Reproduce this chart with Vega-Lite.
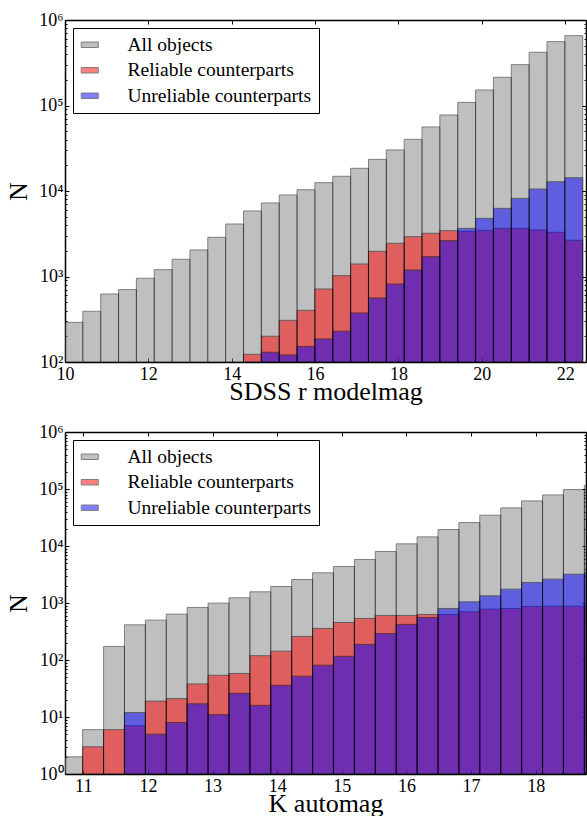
{
  "$schema": "https://vega.github.io/schema/vega-lite/v6.json",
  "background": "white",
  "padding": {"left": 5, "top": 11, "right": 0, "bottom": 0},
  "config": {
    "font": "Liberation Serif",
    "view": {"stroke": null},
    "axis": {"grid": false, "domainColor": "black", "domainWidth": 1.5, "tickColor": "black", "tickWidth": 1, "labelColor": "black", "titleColor": "black", "labelFont": "Liberation Serif", "titleFont": "Liberation Serif", "titleFontWeight": "normal", "labelFontSize": 18, "titleFontSize": 26, "labelFlush": false, "labelOverlap": false},
    "legend": {"labelFont": "Liberation Serif", "labelFontSize": 19.5, "labelColor": "black", "labelLimit": 0}
  },
  "datasets": {
    "top": [
      {"s": "All objects", "lo": 10.000, "hi": 10.428, "n": 291},
      {"s": "All objects", "lo": 10.428, "hi": 10.857, "n": 392},
      {"s": "All objects", "lo": 10.857, "hi": 11.285, "n": 624},
      {"s": "All objects", "lo": 11.285, "hi": 11.713, "n": 702},
      {"s": "All objects", "lo": 11.713, "hi": 12.142, "n": 953},
      {"s": "All objects", "lo": 12.142, "hi": 12.570, "n": 1202},
      {"s": "All objects", "lo": 12.570, "hi": 12.998, "n": 1589},
      {"s": "All objects", "lo": 12.998, "hi": 13.426, "n": 2042},
      {"s": "All objects", "lo": 13.426, "hi": 13.855, "n": 2872},
      {"s": "All objects", "lo": 13.855, "hi": 14.283, "n": 4110},
      {"s": "All objects", "lo": 14.283, "hi": 14.711, "n": 5838},
      {"s": "All objects", "lo": 14.711, "hi": 15.140, "n": 7240},
      {"s": "All objects", "lo": 15.140, "hi": 15.568, "n": 8980},
      {"s": "All objects", "lo": 15.568, "hi": 15.996, "n": 10350},
      {"s": "All objects", "lo": 15.996, "hi": 16.425, "n": 12500},
      {"s": "All objects", "lo": 16.425, "hi": 16.853, "n": 14860},
      {"s": "All objects", "lo": 16.853, "hi": 17.281, "n": 18420},
      {"s": "All objects", "lo": 17.281, "hi": 17.710, "n": 23440},
      {"s": "All objects", "lo": 17.710, "hi": 18.138, "n": 30190},
      {"s": "All objects", "lo": 18.138, "hi": 18.566, "n": 40180},
      {"s": "All objects", "lo": 18.566, "hi": 18.994, "n": 56060},
      {"s": "All objects", "lo": 18.994, "hi": 19.423, "n": 77400},
      {"s": "All objects", "lo": 19.423, "hi": 19.851, "n": 108800},
      {"s": "All objects", "lo": 19.851, "hi": 20.279, "n": 151800},
      {"s": "All objects", "lo": 20.279, "hi": 20.708, "n": 213800},
      {"s": "All objects", "lo": 20.708, "hi": 21.136, "n": 300400},
      {"s": "All objects", "lo": 21.136, "hi": 21.564, "n": 419000},
      {"s": "All objects", "lo": 21.564, "hi": 21.993, "n": 558000},
      {"s": "All objects", "lo": 21.993, "hi": 22.421, "n": 655600},
      {"s": "Reliable counterparts", "lo": 14.283, "hi": 14.711, "n": 123},
      {"s": "Reliable counterparts", "lo": 14.711, "hi": 15.140, "n": 200},
      {"s": "Reliable counterparts", "lo": 15.140, "hi": 15.568, "n": 307},
      {"s": "Reliable counterparts", "lo": 15.568, "hi": 15.996, "n": 402},
      {"s": "Reliable counterparts", "lo": 15.996, "hi": 16.425, "n": 714},
      {"s": "Reliable counterparts", "lo": 16.425, "hi": 16.853, "n": 1023},
      {"s": "Reliable counterparts", "lo": 16.853, "hi": 17.281, "n": 1400},
      {"s": "Reliable counterparts", "lo": 17.281, "hi": 17.710, "n": 1972},
      {"s": "Reliable counterparts", "lo": 17.710, "hi": 18.138, "n": 2444},
      {"s": "Reliable counterparts", "lo": 18.138, "hi": 18.566, "n": 2922},
      {"s": "Reliable counterparts", "lo": 18.566, "hi": 18.994, "n": 3200},
      {"s": "Reliable counterparts", "lo": 18.994, "hi": 19.423, "n": 3436},
      {"s": "Reliable counterparts", "lo": 19.423, "hi": 19.851, "n": 3373},
      {"s": "Reliable counterparts", "lo": 19.851, "hi": 20.279, "n": 3470},
      {"s": "Reliable counterparts", "lo": 20.279, "hi": 20.708, "n": 3656},
      {"s": "Reliable counterparts", "lo": 20.708, "hi": 21.136, "n": 3656},
      {"s": "Reliable counterparts", "lo": 21.136, "hi": 21.564, "n": 3500},
      {"s": "Reliable counterparts", "lo": 21.564, "hi": 21.993, "n": 3285},
      {"s": "Reliable counterparts", "lo": 21.993, "hi": 22.421, "n": 2650},
      {"s": "Unreliable counterparts", "lo": 14.711, "hi": 15.140, "n": 130},
      {"s": "Unreliable counterparts", "lo": 15.140, "hi": 15.568, "n": 121},
      {"s": "Unreliable counterparts", "lo": 15.568, "hi": 15.996, "n": 152},
      {"s": "Unreliable counterparts", "lo": 15.996, "hi": 16.425, "n": 186},
      {"s": "Unreliable counterparts", "lo": 16.425, "hi": 16.853, "n": 229},
      {"s": "Unreliable counterparts", "lo": 16.853, "hi": 17.281, "n": 374},
      {"s": "Unreliable counterparts", "lo": 17.281, "hi": 17.710, "n": 561},
      {"s": "Unreliable counterparts", "lo": 17.710, "hi": 18.138, "n": 817},
      {"s": "Unreliable counterparts", "lo": 18.138, "hi": 18.566, "n": 1191},
      {"s": "Unreliable counterparts", "lo": 18.566, "hi": 18.994, "n": 1706},
      {"s": "Unreliable counterparts", "lo": 18.994, "hi": 19.423, "n": 2625},
      {"s": "Unreliable counterparts", "lo": 19.423, "hi": 19.851, "n": 3656},
      {"s": "Unreliable counterparts", "lo": 19.851, "hi": 20.279, "n": 4790},
      {"s": "Unreliable counterparts", "lo": 20.279, "hi": 20.708, "n": 6270},
      {"s": "Unreliable counterparts", "lo": 20.708, "hi": 21.136, "n": 8200},
      {"s": "Unreliable counterparts", "lo": 21.136, "hi": 21.564, "n": 10550},
      {"s": "Unreliable counterparts", "lo": 21.564, "hi": 21.993, "n": 12850},
      {"s": "Unreliable counterparts", "lo": 21.993, "hi": 22.421, "n": 14310}
    ],
    "bottom": [
      {"s": "All objects", "lo": 10.667, "hi": 10.990, "n": 2},
      {"s": "All objects", "lo": 10.990, "hi": 11.314, "n": 6},
      {"s": "All objects", "lo": 11.314, "hi": 11.637, "n": 173},
      {"s": "All objects", "lo": 11.637, "hi": 11.961, "n": 414},
      {"s": "All objects", "lo": 11.961, "hi": 12.284, "n": 500},
      {"s": "All objects", "lo": 12.284, "hi": 12.607, "n": 638},
      {"s": "All objects", "lo": 12.607, "hi": 12.931, "n": 836},
      {"s": "All objects", "lo": 12.931, "hi": 13.254, "n": 994},
      {"s": "All objects", "lo": 13.254, "hi": 13.578, "n": 1233},
      {"s": "All objects", "lo": 13.578, "hi": 13.901, "n": 1570},
      {"s": "All objects", "lo": 13.901, "hi": 14.225, "n": 1950},
      {"s": "All objects", "lo": 14.225, "hi": 14.548, "n": 2585},
      {"s": "All objects", "lo": 14.548, "hi": 14.871, "n": 3380},
      {"s": "All objects", "lo": 14.871, "hi": 15.195, "n": 4370},
      {"s": "All objects", "lo": 15.195, "hi": 15.518, "n": 5790},
      {"s": "All objects", "lo": 15.518, "hi": 15.842, "n": 8000},
      {"s": "All objects", "lo": 15.842, "hi": 16.165, "n": 10900},
      {"s": "All objects", "lo": 16.165, "hi": 16.489, "n": 14450},
      {"s": "All objects", "lo": 16.489, "hi": 16.812, "n": 19460},
      {"s": "All objects", "lo": 16.812, "hi": 17.135, "n": 25800},
      {"s": "All objects", "lo": 17.135, "hi": 17.459, "n": 34700},
      {"s": "All objects", "lo": 17.459, "hi": 17.782, "n": 46600},
      {"s": "All objects", "lo": 17.782, "hi": 18.106, "n": 61800},
      {"s": "All objects", "lo": 18.106, "hi": 18.429, "n": 78700},
      {"s": "All objects", "lo": 18.429, "hi": 18.753, "n": 97800},
      {"s": "All objects", "lo": 18.753, "hi": 19.076, "n": 116000},
      {"s": "Reliable counterparts", "lo": 10.990, "hi": 11.314, "n": 3},
      {"s": "Reliable counterparts", "lo": 11.314, "hi": 11.637, "n": 6},
      {"s": "Reliable counterparts", "lo": 11.637, "hi": 11.961, "n": 7},
      {"s": "Reliable counterparts", "lo": 11.961, "hi": 12.284, "n": 19},
      {"s": "Reliable counterparts", "lo": 12.284, "hi": 12.607, "n": 21},
      {"s": "Reliable counterparts", "lo": 12.607, "hi": 12.931, "n": 38},
      {"s": "Reliable counterparts", "lo": 12.931, "hi": 13.254, "n": 54},
      {"s": "Reliable counterparts", "lo": 13.254, "hi": 13.578, "n": 58},
      {"s": "Reliable counterparts", "lo": 13.578, "hi": 13.901, "n": 119},
      {"s": "Reliable counterparts", "lo": 13.901, "hi": 14.225, "n": 143},
      {"s": "Reliable counterparts", "lo": 14.225, "hi": 14.548, "n": 259},
      {"s": "Reliable counterparts", "lo": 14.548, "hi": 14.871, "n": 358},
      {"s": "Reliable counterparts", "lo": 14.871, "hi": 15.195, "n": 456},
      {"s": "Reliable counterparts", "lo": 15.195, "hi": 15.518, "n": 536},
      {"s": "Reliable counterparts", "lo": 15.518, "hi": 15.842, "n": 604},
      {"s": "Reliable counterparts", "lo": 15.842, "hi": 16.165, "n": 604},
      {"s": "Reliable counterparts", "lo": 16.165, "hi": 16.489, "n": 630},
      {"s": "Reliable counterparts", "lo": 16.489, "hi": 16.812, "n": 630},
      {"s": "Reliable counterparts", "lo": 16.812, "hi": 17.135, "n": 700},
      {"s": "Reliable counterparts", "lo": 17.135, "hi": 17.459, "n": 780},
      {"s": "Reliable counterparts", "lo": 17.459, "hi": 17.782, "n": 802},
      {"s": "Reliable counterparts", "lo": 17.782, "hi": 18.106, "n": 870},
      {"s": "Reliable counterparts", "lo": 18.106, "hi": 18.429, "n": 880},
      {"s": "Reliable counterparts", "lo": 18.429, "hi": 18.753, "n": 880},
      {"s": "Reliable counterparts", "lo": 18.753, "hi": 19.076, "n": 880},
      {"s": "Unreliable counterparts", "lo": 11.637, "hi": 11.961, "n": 12},
      {"s": "Unreliable counterparts", "lo": 11.961, "hi": 12.284, "n": 5},
      {"s": "Unreliable counterparts", "lo": 12.284, "hi": 12.607, "n": 8},
      {"s": "Unreliable counterparts", "lo": 12.607, "hi": 12.931, "n": 17},
      {"s": "Unreliable counterparts", "lo": 12.931, "hi": 13.254, "n": 11},
      {"s": "Unreliable counterparts", "lo": 13.254, "hi": 13.578, "n": 26},
      {"s": "Unreliable counterparts", "lo": 13.578, "hi": 13.901, "n": 16},
      {"s": "Unreliable counterparts", "lo": 13.901, "hi": 14.225, "n": 36},
      {"s": "Unreliable counterparts", "lo": 14.225, "hi": 14.548, "n": 52},
      {"s": "Unreliable counterparts", "lo": 14.548, "hi": 14.871, "n": 81},
      {"s": "Unreliable counterparts", "lo": 14.871, "hi": 15.195, "n": 116},
      {"s": "Unreliable counterparts", "lo": 15.195, "hi": 15.518, "n": 188},
      {"s": "Unreliable counterparts", "lo": 15.518, "hi": 15.842, "n": 292},
      {"s": "Unreliable counterparts", "lo": 15.842, "hi": 16.165, "n": 421},
      {"s": "Unreliable counterparts", "lo": 16.165, "hi": 16.489, "n": 557},
      {"s": "Unreliable counterparts", "lo": 16.489, "hi": 16.812, "n": 802},
      {"s": "Unreliable counterparts", "lo": 16.812, "hi": 17.135, "n": 1047},
      {"s": "Unreliable counterparts", "lo": 17.135, "hi": 17.459, "n": 1336},
      {"s": "Unreliable counterparts", "lo": 17.459, "hi": 17.782, "n": 1750},
      {"s": "Unreliable counterparts", "lo": 17.782, "hi": 18.106, "n": 2290},
      {"s": "Unreliable counterparts", "lo": 18.106, "hi": 18.429, "n": 2620},
      {"s": "Unreliable counterparts", "lo": 18.429, "hi": 18.753, "n": 3200},
      {"s": "Unreliable counterparts", "lo": 18.753, "hi": 19.076, "n": 3430}
    ]
  },
  "vconcat": [
    {
      "width": 521,
      "height": 342,
      "data": {"name": "top"},
      "layer": [
        {
          "mark": {"type": "bar", "opacity": 0.5, "stroke": "black", "strokeWidth": 1, "clip": true},
          "encoding": {
            "x": {"field": "lo", "type": "quantitative", "scale": {"domain": [10, 22.5], "nice": false, "zero": false},
              "axis": {"orient": "bottom", "values": [10, 12, 14, 16, 18, 20, 22], "tickSize": -4, "labelPadding": 7, "title": "SDSS r modelmag", "titlePadding": -5}},
            "x2": {"field": "hi"},
            "y": {"field": "n", "type": "quantitative", "stack": null, "scale": {"type": "log", "domain": [100, 1000000], "nice": false},
              "axis": {"orient": "left", "title": "N", "titlePadding": 7,
                "values": [100,200,300,400,500,600,700,800,900,1000,2000,3000,4000,5000,6000,7000,8000,9000,10000,20000,30000,40000,50000,60000,70000,80000,90000,100000,200000,300000,400000,500000,600000,700000,800000,900000,1000000],
                "tickSize": {"condition": {"test": "abs(log(datum.value)/LN10 - round(log(datum.value)/LN10)) < 0.01", "value": -4}, "value": -2},
                "labelPadding": 6, "labelBaseline": "middle",
                "labelExpr": "abs(log(datum.value)/LN10 - round(log(datum.value)/LN10)) < 0.01 ? '10' + ['⁰','¹','²','³','⁴','⁵','⁶'][round(log(datum.value)/LN10)] : ''"}},
            "y2": {"datum": 100},
            "color": {"field": "s", "type": "nominal",
              "scale": {"domain": ["All objects", "Reliable counterparts", "Unreliable counterparts"], "range": ["#808080", "#ff0000", "#0000ff"]},
              "legend": {"title": null, "orient": "none", "legendX": 8, "legendY": 8, "direction": "vertical", "fillColor": "white", "strokeColor": "black", "padding": 7, "rowPadding": 4.5,
                "symbolType": "M-1.55,-0.5H1.55V0.5H-1.55Z", "symbolSize": 121, "symbolStrokeColor": "black", "symbolStrokeWidth": 1, "symbolOpacity": 0.5, "symbolOffset": 0, "labelOffset": 28}}
          }
        },
        {
          "mark": {"type": "bar", "opacity": 0},
          "encoding": {
            "x": {"field": "lo", "type": "quantitative", "axis": {"orient": "top", "values": [10, 12, 14, 16, 18, 20, 22], "tickSize": -4, "labels": false, "title": null}},
            "x2": {"field": "hi"},
            "y": {"field": "n", "type": "quantitative", "stack": null,
              "axis": {"orient": "right", "title": null, "labels": false,
                "values": [100,200,300,400,500,600,700,800,900,1000,2000,3000,4000,5000,6000,7000,8000,9000,10000,20000,30000,40000,50000,60000,70000,80000,90000,100000,200000,300000,400000,500000,600000,700000,800000,900000,1000000],
                "tickSize": {"condition": {"test": "abs(log(datum.value)/LN10 - round(log(datum.value)/LN10)) < 0.01", "value": -4}, "value": -2}}},
            "y2": {"datum": 100}
          }
        }
      ],
      "resolve": {"axis": {"x": "independent", "y": "independent"}}
    },
    {
      "width": 521,
      "height": 342,
      "data": {"name": "bottom"},
      "layer": [
        {
          "mark": {"type": "bar", "opacity": 0.5, "stroke": "black", "strokeWidth": 1, "clip": true},
          "encoding": {
            "x": {"field": "lo", "type": "quantitative", "scale": {"domain": [10.717, 18.778], "nice": false, "zero": false},
              "axis": {"orient": "bottom", "values": [11, 12, 13, 14, 15, 16, 17, 18], "tickSize": -4, "labelPadding": 7, "title": "K automag", "titlePadding": -5}},
            "x2": {"field": "hi"},
            "y": {"field": "n", "type": "quantitative", "stack": null, "scale": {"type": "log", "domain": [1, 1000000], "nice": false},
              "axis": {"orient": "left", "title": "N", "titlePadding": 7,
                "values": [1,2,3,4,5,6,7,8,9,10,20,30,40,50,60,70,80,90,100,200,300,400,500,600,700,800,900,1000,2000,3000,4000,5000,6000,7000,8000,9000,10000,20000,30000,40000,50000,60000,70000,80000,90000,100000,200000,300000,400000,500000,600000,700000,800000,900000,1000000],
                "tickSize": {"condition": {"test": "abs(log(datum.value)/LN10 - round(log(datum.value)/LN10)) < 0.01", "value": -4}, "value": -2},
                "labelPadding": 6, "labelBaseline": "middle",
                "labelExpr": "abs(log(datum.value)/LN10 - round(log(datum.value)/LN10)) < 0.01 ? '10' + ['⁰','¹','²','³','⁴','⁵','⁶'][round(log(datum.value)/LN10)] : ''"}},
            "y2": {"datum": 1},
            "color": {"field": "s", "type": "nominal",
              "scale": {"domain": ["All objects", "Reliable counterparts", "Unreliable counterparts"], "range": ["#808080", "#ff0000", "#0000ff"]},
              "legend": {"title": null, "orient": "none", "legendX": 8, "legendY": 8, "direction": "vertical", "fillColor": "white", "strokeColor": "black", "padding": 7, "rowPadding": 4.5,
                "symbolType": "M-1.55,-0.5H1.55V0.5H-1.55Z", "symbolSize": 121, "symbolStrokeColor": "black", "symbolStrokeWidth": 1, "symbolOpacity": 0.5, "symbolOffset": 0, "labelOffset": 28}}
          }
        },
        {
          "mark": {"type": "bar", "opacity": 0},
          "encoding": {
            "x": {"field": "lo", "type": "quantitative", "axis": {"orient": "top", "values": [11, 12, 13, 14, 15, 16, 17, 18], "tickSize": -4, "labels": false, "title": null}},
            "x2": {"field": "hi"},
            "y": {"field": "n", "type": "quantitative", "stack": null,
              "axis": {"orient": "right", "title": null, "labels": false,
                "values": [1,2,3,4,5,6,7,8,9,10,20,30,40,50,60,70,80,90,100,200,300,400,500,600,700,800,900,1000,2000,3000,4000,5000,6000,7000,8000,9000,10000,20000,30000,40000,50000,60000,70000,80000,90000,100000,200000,300000,400000,500000,600000,700000,800000,900000,1000000],
                "tickSize": {"condition": {"test": "abs(log(datum.value)/LN10 - round(log(datum.value)/LN10)) < 0.01", "value": -4}, "value": -2}}},
            "y2": {"datum": 1}
          }
        }
      ],
      "resolve": {"axis": {"x": "independent", "y": "independent"}}
    }
  ],
  "spacing": 70,
  "bounds": "flush",
  "resolve": {"scale": {"color": "independent"}, "legend": {"color": "independent"}}
}
